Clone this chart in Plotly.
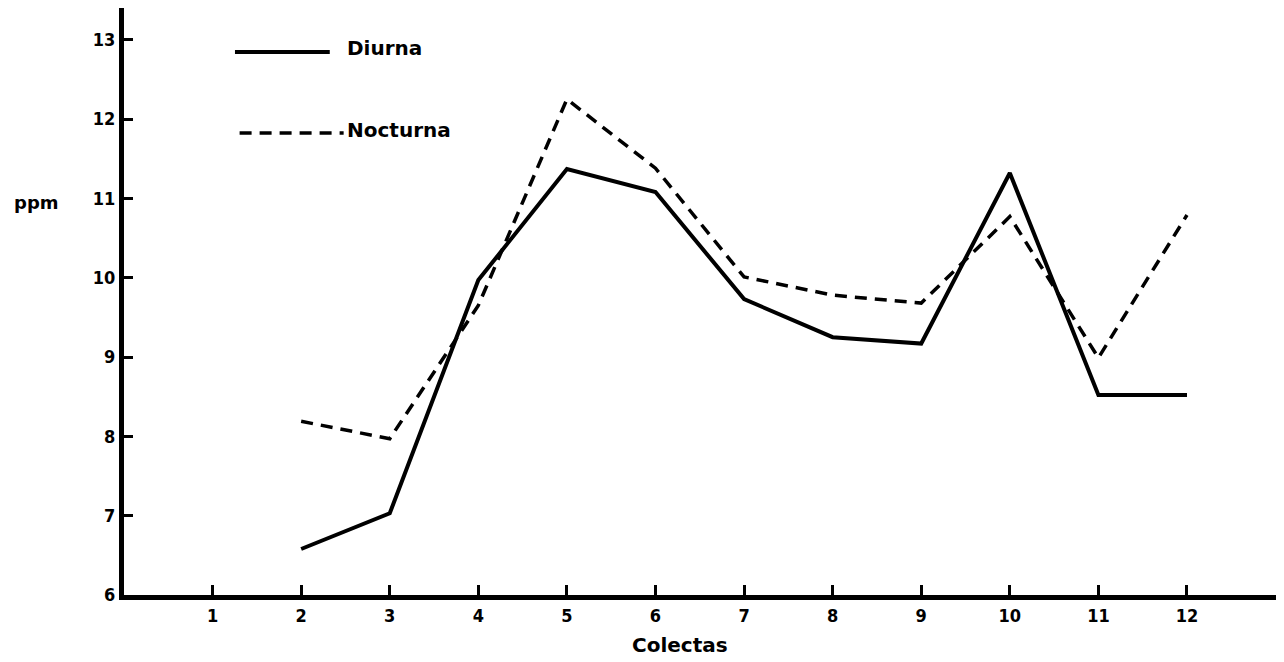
import plotly.graph_objects as go

colectas = [2, 3, 4, 5, 6, 7, 8, 9, 10, 11, 12]
diurna = [6.58, 7.03, 9.97, 11.37, 11.08, 9.73, 9.25, 9.17, 11.32, 8.52, 8.52]
nocturna = [8.19, 7.97, 9.65, 12.25, 11.38, 10.01, 9.78, 9.68, 10.77, 8.99, 10.79]

x_ticks = list(range(1, 13))
y_ticks = list(range(6, 14))

FONT = "DejaVu Sans Condensed, DejaVu Sans, Arial"

fig = go.Figure()
fig.add_trace(go.Scatter(x=colectas, y=diurna, mode="lines", name="Diurna",
                         line=dict(color="black", width=4)))
fig.add_trace(go.Scatter(x=colectas, y=nocturna, mode="lines", name="Nocturna",
                         line=dict(color="black", width=3.5, dash="12px,8px")))

fig.update_layout(
    width=1276, height=654,
    margin=dict(l=116, r=4, t=0, b=67),
    paper_bgcolor="white", plot_bgcolor="white",
    showlegend=False,
    font=dict(family=FONT, color="black", size=16, weight="bold"),
    xaxis=dict(range=[0, 13.05], tickvals=x_ticks, ticktext=[str(v) for v in x_ticks],
               showline=True, linecolor="black", linewidth=5,
               ticks="inside", ticklen=10, tickwidth=3, tickcolor="black",
               showgrid=False, zeroline=False,
               tickfont=dict(family=FONT, size=18, weight="bold")),
    yaxis=dict(range=[6, 13.4], tickvals=y_ticks, ticktext=[str(v) for v in y_ticks],
               showline=True, linecolor="black", linewidth=5,
               ticks="inside", ticklen=9, tickwidth=3, tickcolor="black",
               showgrid=False, zeroline=False,
               tickfont=dict(family=FONT, size=18, weight="bold")),
)

# legend drawn as shapes + text
fig.add_shape(type="line", xref="paper", yref="paper", x0=0.096, x1=0.178, y0=0.925, y1=0.925,
              line=dict(color="black", width=4))
fig.add_shape(type="line", xref="paper", yref="paper", x0=0.100, x1=0.190, y0=0.787, y1=0.787,
              line=dict(color="black", width=3.5, dash="12px,8px"))
fig.add_annotation(text="Diurna", xref="paper", yref="paper", x=0.191, y=0.932,
                   xanchor="left", yanchor="middle", showarrow=False,
                   font=dict(family="DejaVu Sans, Arial", size=20, weight="bold"))
fig.add_annotation(text="Nocturna", xref="paper", yref="paper", x=0.191, y=0.792,
                   xanchor="left", yanchor="middle", showarrow=False,
                   font=dict(family="DejaVu Sans, Arial", size=20, weight="bold"))
fig.add_annotation(text="ppm", xref="paper", yref="paper", x=-0.076, y=0.668,
                   xanchor="center", yanchor="middle", showarrow=False,
                   font=dict(family="DejaVu Sans, Arial", size=18, weight="bold"))
fig.add_annotation(text="Colectas", xref="paper", yref="paper", x=0.481, y=-0.085,
                   xanchor="center", yanchor="middle", showarrow=False,
                   font=dict(family="DejaVu Sans, Arial", size=20, weight="bold"))

fig.write_html("out.html")
